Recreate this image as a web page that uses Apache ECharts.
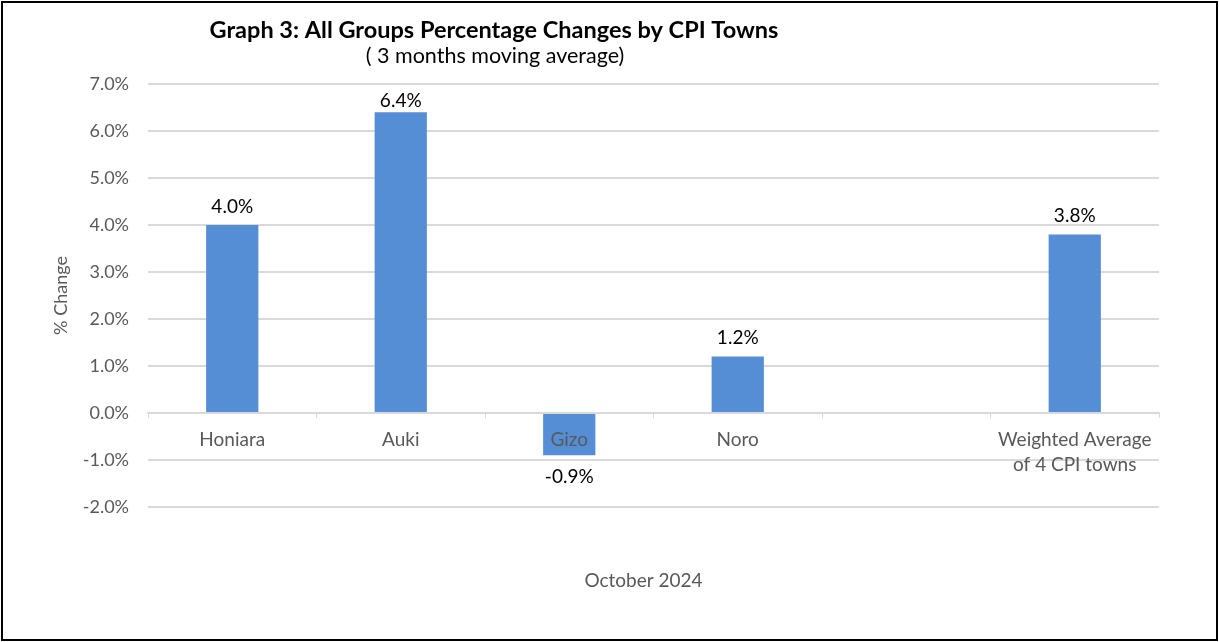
<!DOCTYPE html>
<html lang="en">
<head>
    <meta charset="UTF-8">
    <title>Graph 3</title>
    <script src="https://cdn.jsdelivr.net/npm/echarts@6/dist/echarts.min.js"></script>
    <style>
        html, body { margin: 0; padding: 0; background: #fff; }
        #main {
            position: absolute; left: 1px; top: 1px;
            width: 1213px; height: 636px;
            border: 2px solid #000;
        }
    </style>
</head>
<body>
<div id="main"></div>
<script>
    // chart data
    var towns = ['Honiara', 'Auki', 'Gizo', 'Noro', '', 'Weighted Average\nof 4 CPI towns'];
    var changes = [4.0, 6.4, -0.9, 1.2, null, 3.8];
    var yTicks = [-2, -1, 0, 1, 2, 3, 4, 5, 6, 7];

    var myChart = echarts.init(document.getElementById('main'));

    // bar labels: Auki sits closer to its bar, negatives go below
    var barData = changes.map(function (v, i) {
        if (v == null) return v;
        if (v < 0) return { value: v, label: { position: 'bottom', distance: 12 } };
        if (towns[i] === 'Auki') return { value: v, label: { distance: 2 } };
        return v;
    });

    var option = {
        backgroundColor: '#fff',
        textStyle: { fontFamily: 'Lato' },
        title: [{
            text: 'Graph 3: All Groups Percentage Changes by CPI Towns',
            left: 486, top: 10, textAlign: 'center',
            textStyle: { fontFamily: 'Lato', fontSize: 23.5, fontWeight: 'bold', color: '#000' }
        }, {
            text: '( 3 months moving average)',
            left: 487, top: 37, textAlign: 'center',
            textStyle: { fontFamily: 'Lato', fontSize: 21.5, fontWeight: 'normal', color: '#000' }
        }],
        grid: { left: 145, right: 57, top: 81, bottom: 132, outerBoundsMode: 'none', containLabel: false },
        xAxis: {
            type: 'category',
            data: towns,
            position: 'bottom',
            offset: -94,
            name: 'October 2024',
            nameLocation: 'middle',
            nameGap: 158,
            nameTextStyle: { fontSize: 19, color: '#595959', fontFamily: 'Lato', padding: [0, 20, 0, 0] },
            axisLine: { onZero: false, lineStyle: { color: '#d9d9d9', width: 2 } },
            axisTick: { show: true, length: 5, lineStyle: { color: '#d9d9d9', width: 1 } },
            axisLabel: { fontSize: 19, color: '#595959', margin: 14, lineHeight: 25, fontFamily: 'Lato', interval: 0 },
            z: 10
        },
        yAxis: {
            type: 'value',
            min: yTicks[0], max: yTicks[yTicks.length - 1], interval: 1,
            name: '% Change',
            nameLocation: 'middle',
            nameGap: 78,
            nameTextStyle: { fontSize: 18, color: '#595959', fontFamily: 'Lato' },
            axisLine: { show: false },
            axisTick: { show: false },
            splitLine: { lineStyle: { color: '#d9d9d9', width: 2 } },
            axisLabel: {
                fontSize: 18, color: '#595959', margin: 19, fontFamily: 'Lato',
                formatter: function (v) { return v.toFixed(1) + '%'; }
            }
        },
        series: [{
            type: 'bar',
            data: barData,
            barWidth: '31%',
            itemStyle: { color: '#558ED5' },
            z: 1,
            label: {
                show: true,
                position: 'top',
                fontSize: 19, color: '#000', fontFamily: 'Lato', distance: 9,
                formatter: function (p) { return p.value == null ? '' : p.value.toFixed(1) + '%'; }
            }
        }]
    };
    myChart.setOption(option);
</script>
</body>
</html>
